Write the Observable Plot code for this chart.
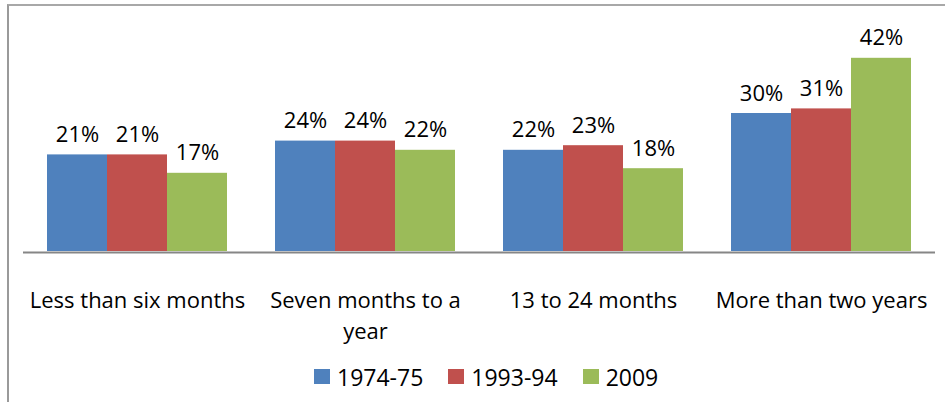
<!DOCTYPE html>
<html><head><meta charset="utf-8">
<script src="https://cdn.jsdelivr.net/npm/d3@7"></script>
<script src="https://cdn.jsdelivr.net/npm/@observablehq/plot@0.6"></script>
<style>
html,body{margin:0;padding:0;background:#fff;overflow:hidden;width:945px;height:402px}
#frame{position:absolute;left:7px;top:4px;width:1000px;height:500px;border-left:2px solid #9a9a9a;border-top:2px solid #a8a8a8;box-sizing:border-box}
#chart{position:absolute;left:0;top:0}
#legend{position:absolute;left:314px;top:360px}
#legend .lg-swatch{margin-right:25px}
#legend .lg-swatch > svg{margin-right:7px}
</style></head><body>
<div id="frame"></div>
<div id="chart"></div>
<div id="legend"></div>
<script>
const categories = ["Less than six months", "Seven months to a year", "13 to 24 months", "More than two years"];
const tickLabels = ["Less than six months", "Seven months to a\nyear", "13 to 24 months", "More than two years"];
const series = ["1974-75", "1993-94", "2009"];
const values1974 = [21, 24, 22, 30];
const values1993 = [21, 24, 23, 31];
const values2009 = [17, 22, 18, 42];
const colors = ["#4F81BD", "#C0504D", "#9BBB59"];

const data = [];
[values1974, values1993, values2009].forEach((vals, s) =>
  vals.forEach((v, i) => data.push({category: categories[i], series: series[s], value: v})));

const FONT = "'Open Sans', sans-serif";

const chart = Plot.plot({
  width: 945, height: 350,
  marginLeft: 23, marginRight: 10, marginTop: 44, marginBottom: 99,
  style: {fontFamily: FONT, fontSize: "22px", color: "#000", background: "transparent"},
  fx: {domain: categories, padding: 0, label: null},
  x: {domain: series, paddingInner: 0, paddingOuter: 0.379, axis: null},
  y: {domain: [0, 45], axis: null},
  color: {domain: series, range: colors},
  marks: [
    Plot.barY(data, {fx: "category", x: "series", y: "value", fill: "series"}),
    Plot.text(data, {fx: "category", x: "series", y: "value", text: d => d.value + "%", lineAnchor: "bottom", dy: -13, fontSize: 22, fill: "#000"}),
    Plot.ruleY([0], {stroke: "#868686", strokeWidth: 2, dy: 1}),
    Plot.axisFx({anchor: "bottom", tickSize: 0, tickPadding: 35, tickFormat: d => tickLabels[categories.indexOf(d)], fontSize: 22, lineHeight: 1.4, label: null, fill: "#000"})
  ]
});
document.getElementById("chart").appendChild(chart);

const legend = Plot.legend({
  color: {domain: series, range: colors},
  legend: "swatches",
  swatchWidth: 16, swatchHeight: 15,
  className: "lg",
  style: {fontFamily: FONT, fontSize: "23px", color: "#000", margin: "0"}
});
document.getElementById("legend").appendChild(legend);
</script>
</body></html>
